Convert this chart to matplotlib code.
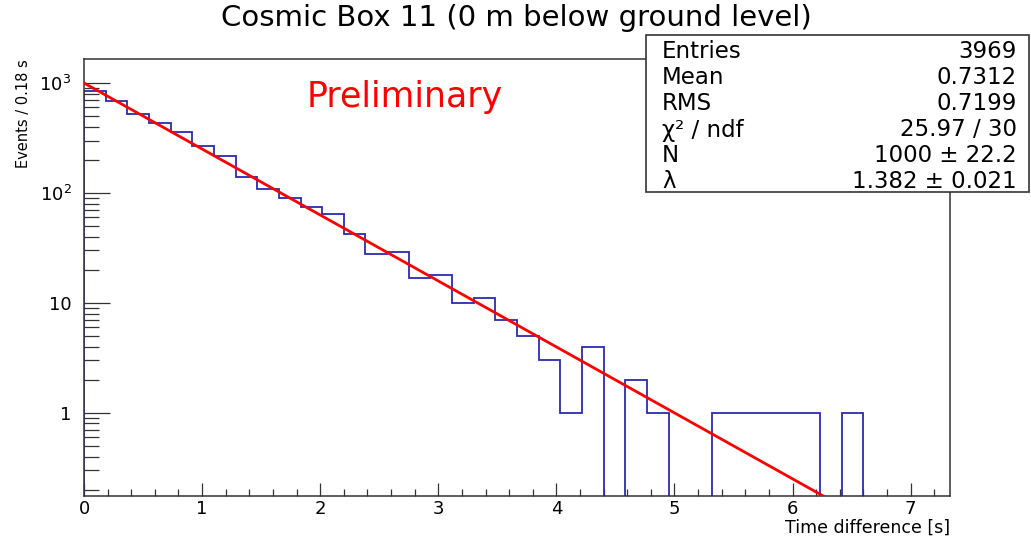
import numpy as np
import matplotlib.pyplot as plt
from matplotlib.patches import Rectangle
from matplotlib.ticker import FixedLocator, LogLocator, MultipleLocator, NullFormatter

plt.rcParams['font.family'] = ['DejaVu Sans']
plt.rcParams['mathtext.fontset'] = 'dejavusans'

# Histogram: 40 bins between 0 and 7.333 s (bin width ~0.18 s)
x_min = 0.0
x_max = 7.333
n_bins = 40
counts = [838, 680, 525, 432, 362, 265, 218, 141, 109, 90,
          75, 65, 42, 28, 29, 17, 18, 10, 11, 7,
          5, 3, 1, 4, 0, 2, 1, 0, 0, 1,
          1, 1, 1, 1, 0, 1, 0, 0, 0, 0]

# Exponential fit parameters (from the stats box)
fit_N = 1000.0
fit_lambda = 1.382

# Stats box
stat_names = ['Entries', 'Mean', 'RMS', 'χ² / ndf', 'N', 'λ']
stat_values = ['3969', '0.7312', '0.7199', '25.97 / 30', '1000 ± 22.2', '1.382 ± 0.021']

y_ticks = [1, 10, 100, 1000]
y_tick_labels = ['1', '10', r'$\mathregular{10^{2}}$', r'$\mathregular{10^{3}}$']

W, H = 1031, 537
fig = plt.figure(figsize=(W / 100, H / 100), dpi=100)
ax = fig.add_axes([84 / W, 1 - 496 / H, (950 - 84) / W, (496 - 59) / H])

edges = np.linspace(x_min, x_max, n_bins + 1)
ax.stairs(counts, edges, color='#2b2bb0', linewidth=1.3, zorder=2)

t = np.linspace(x_min, x_max, 300)
ax.plot(t, fit_N * np.exp(-fit_lambda * t), color='#ff0000', linewidth=2.0, zorder=3)

ax.set_yscale('log')
ax.set_xlim(x_min, x_max)
ax.set_ylim(0.175, 1655)

ax.yaxis.set_major_locator(FixedLocator(y_ticks))
ax.set_yticklabels(y_tick_labels)
ax.yaxis.set_minor_locator(LogLocator(base=10, subs=range(2, 10), numticks=20))
ax.yaxis.set_minor_formatter(NullFormatter())
ax.xaxis.set_major_locator(MultipleLocator(1))
ax.xaxis.set_minor_locator(MultipleLocator(0.2))

ax.tick_params(axis='both', which='both', direction='in', colors='#333333',
               labelcolor='black', width=0.9, top=False, right=False)
ax.tick_params(axis='y', which='major', length=19, pad=9, labelsize=13)
ax.tick_params(axis='y', which='minor', length=11)
ax.tick_params(axis='x', which='major', length=9.5, pad=3, labelsize=13)
ax.tick_params(axis='x', which='minor', length=5)
for sp in ax.spines.values():
    sp.set_color('#333333')
    sp.set_linewidth(1.1)

# Titles and labels
fig.text(516 / W, 1 - 18 / H, 'Cosmic Box 11 (0 m below ground level)',
         ha='center', va='center', fontsize=21)
fig.text(950 / W, 1 - 528 / H, 'Time difference [s]', ha='right', va='center', fontsize=12.5)
fig.text(24 / W, 1 - 59 / H, 'Events / 0.18 s', rotation=90, ha='center', va='top', fontsize=10.5)
ax.text(405 / W, 1 - 97 / H, 'Preliminary', transform=fig.transFigure,
        ha='center', va='center', fontsize=25, color='red')

# Stats box
box = Rectangle((646 / W, 1 - 192 / H), (1029 - 646) / W, (192 - 35) / H,
                transform=fig.transFigure, facecolor='white', edgecolor='#333333',
                linewidth=1.2, zorder=5)
fig.add_artist(box)
row_y = [52, 78, 104, 130, 156, 182]
for name, val, yy in zip(stat_names, stat_values, row_y):
    fig.text(662 / W, 1 - yy / H, name, ha='left', va='center', fontsize=16.5, zorder=6)
    fig.text(1017 / W, 1 - yy / H, val, ha='right', va='center', fontsize=16.5, zorder=6)

fig.savefig('out.png', dpi=100)
